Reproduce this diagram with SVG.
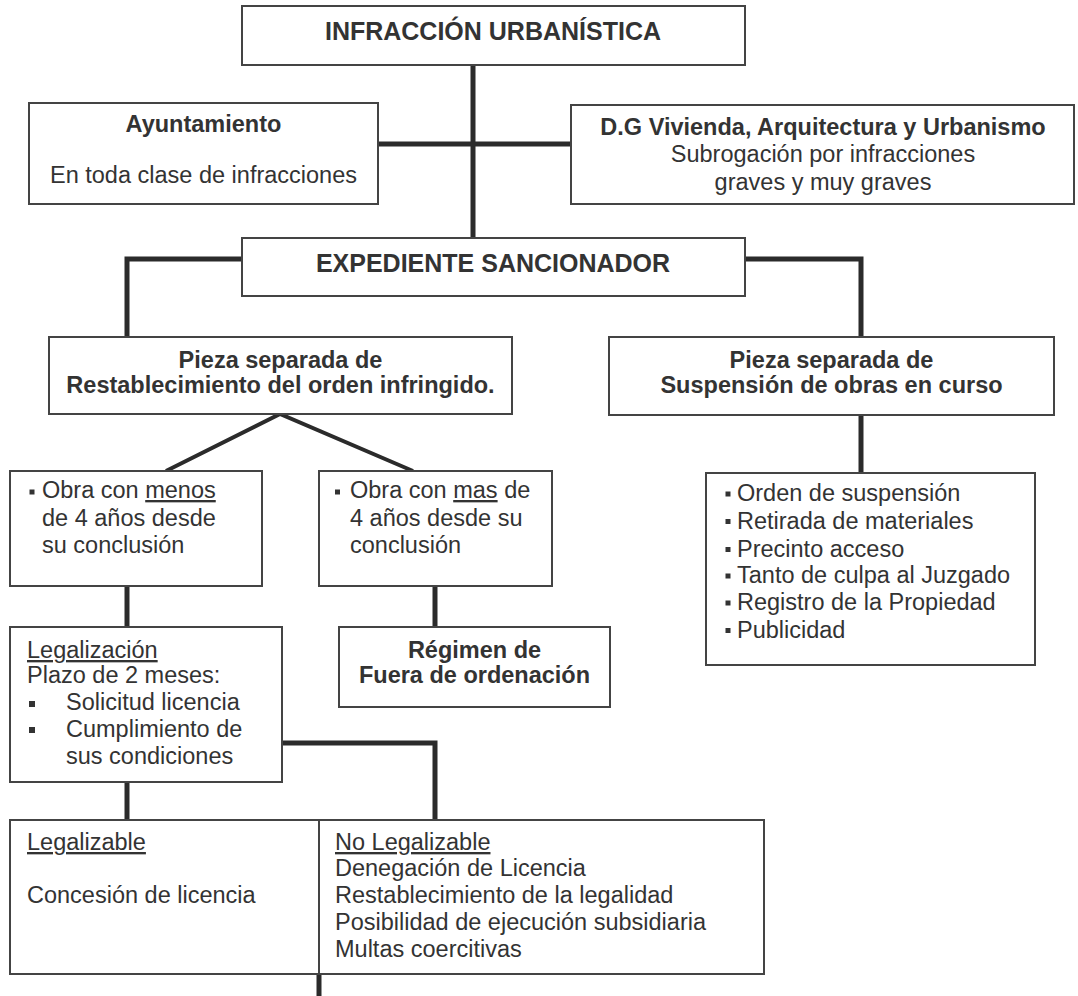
<svg xmlns="http://www.w3.org/2000/svg" width="1078" height="996" viewBox="0 0 1078 996">
<style>
  .box { fill: #ffffff; stroke: #444444; stroke-width: 2; }
  .conn { fill: none; stroke: #2b2b2b; stroke-width: 5; stroke-linejoin: miter; }
  .diag { fill: none; stroke: #2b2b2b; stroke-width: 4; }
  .sep { stroke: #444444; stroke-width: 2; }
  text { font-family: "Liberation Sans", Arial, sans-serif; font-size: 23.5px; fill: #333333; }
  .b { font-weight: bold; }
  .t { font-size: 25px; font-weight: bold; }
  .c { text-anchor: middle; }
  .u { text-decoration: underline; }
  .bul { fill: #333333; }
</style>
<rect width="1078" height="996" fill="#ffffff"/>

<g id="connectors">
  <path class="conn" d="M473,65 V238"/>
  <path class="conn" d="M378,144 H571"/>
  <path class="conn" d="M242,259 H127 V337"/>
  <path class="conn" d="M745,259 H861 V337"/>
  <path class="conn" d="M861,415 V473"/>
  <path class="diag" d="M166,471 L280,414 L413,471"/>
  <path class="conn" d="M127,586 V627"/>
  <path class="conn" d="M435,586 V627"/>
  <path class="conn" d="M282,743 H435 V820"/>
  <path class="conn" d="M127,782 V820"/>
  <path class="conn" d="M319,974 V996"/>
</g>

<g id="infraccion">
  <rect class="box" x="242" y="6" width="503" height="59"/>
  <text class="t c" x="493" y="40">INFRACCIÓN URBANÍSTICA</text>
</g>

<g id="ayuntamiento">
  <rect class="box" x="29" y="103" width="349" height="101"/>
  <text class="b c" x="203.5" y="132">Ayuntamiento</text>
  <text class="c" x="203.5" y="183">En toda clase de infracciones</text>
</g>

<g id="dg">
  <rect class="box" x="571" y="105" width="503" height="99"/>
  <text class="b c" x="823" y="135">D.G Vivienda, Arquitectura y Urbanismo</text>
  <text class="c" x="823" y="162">Subrogación por infracciones</text>
  <text class="c" x="823" y="190">graves y muy graves</text>
</g>

<g id="expediente">
  <rect class="box" x="242" y="238" width="503" height="58"/>
  <text class="t c" x="493" y="272">EXPEDIENTE SANCIONADOR</text>
</g>

<g id="pieza-restablecimiento">
  <rect class="box" x="49" y="337" width="463" height="77"/>
  <text class="b c" x="280.5" y="368">Pieza separada de</text>
  <text class="b c" x="280.5" y="393">Restablecimiento del orden infringido.</text>
</g>

<g id="pieza-suspension">
  <rect class="box" x="609" y="337" width="445" height="78"/>
  <text class="b c" x="831.5" y="368">Pieza separada de</text>
  <text class="b c" x="831.5" y="393">Suspensión de obras en curso</text>
</g>

<g id="obra-menos">
  <rect class="box" x="10" y="471" width="252" height="115"/>
  <rect class="bul" x="29.5" y="489.5" width="5" height="5"/>
  <text x="42" y="498">Obra con <tspan class="u">menos</tspan></text>
  <text x="42" y="526">de 4 años desde</text>
  <text x="42" y="553">su conclusión</text>
</g>

<g id="obra-mas">
  <rect class="box" x="319" y="471" width="233" height="115"/>
  <rect class="bul" x="335" y="489.5" width="5" height="5"/>
  <text x="350" y="498">Obra con <tspan class="u">mas</tspan> de</text>
  <text x="350" y="526">4 años desde su</text>
  <text x="350" y="553">conclusión</text>
</g>

<g id="suspension-medidas">
  <rect class="box" x="706" y="473" width="329" height="192"/>
  <rect class="bul" x="725.5" y="491.5" width="5" height="5"/>
  <text x="737" y="501">Orden de suspensión</text>
  <rect class="bul" x="725.5" y="519" width="5" height="5"/>
  <text x="737" y="529">Retirada de materiales</text>
  <rect class="bul" x="725.5" y="547" width="5" height="5"/>
  <text x="737" y="557">Precinto acceso</text>
  <rect class="bul" x="725.5" y="573.5" width="5" height="5"/>
  <text x="737" y="583">Tanto de culpa al Juzgado</text>
  <rect class="bul" x="725.5" y="600.5" width="5" height="5"/>
  <text x="737" y="610">Registro de la Propiedad</text>
  <rect class="bul" x="725.5" y="628" width="5" height="5"/>
  <text x="737" y="638">Publicidad</text>
</g>

<g id="legalizacion">
  <rect class="box" x="10" y="627" width="272" height="155"/>
  <text class="u" x="27" y="658">Legalización</text>
  <text x="27" y="683">Plazo de 2 meses:</text>
  <rect class="bul" x="29" y="701" width="6" height="6"/>
  <text x="66" y="710">Solicitud licencia</text>
  <rect class="bul" x="29" y="727" width="6" height="6"/>
  <text x="66" y="737">Cumplimiento de</text>
  <text x="66" y="764">sus condiciones</text>
</g>

<g id="regimen">
  <rect class="box" x="339" y="627" width="271" height="80"/>
  <text class="b c" x="474.5" y="658">Régimen de</text>
  <text class="b c" x="474.5" y="683">Fuera de ordenación</text>
</g>

<g id="resultado">
  <rect class="box" x="10" y="820" width="754" height="154"/>
  <line class="sep" x1="319" y1="820" x2="319" y2="974"/>
  <text class="u" x="27" y="850">Legalizable</text>
  <text x="27" y="903">Concesión de licencia</text>
  <text class="u" x="335" y="850">No Legalizable</text>
  <text x="335" y="876">Denegación de Licencia</text>
  <text x="335" y="903">Restablecimiento de la legalidad</text>
  <text x="335" y="930">Posibilidad de ejecución subsidiaria</text>
  <text x="335" y="957">Multas coercitivas</text>
</g>
</svg>
